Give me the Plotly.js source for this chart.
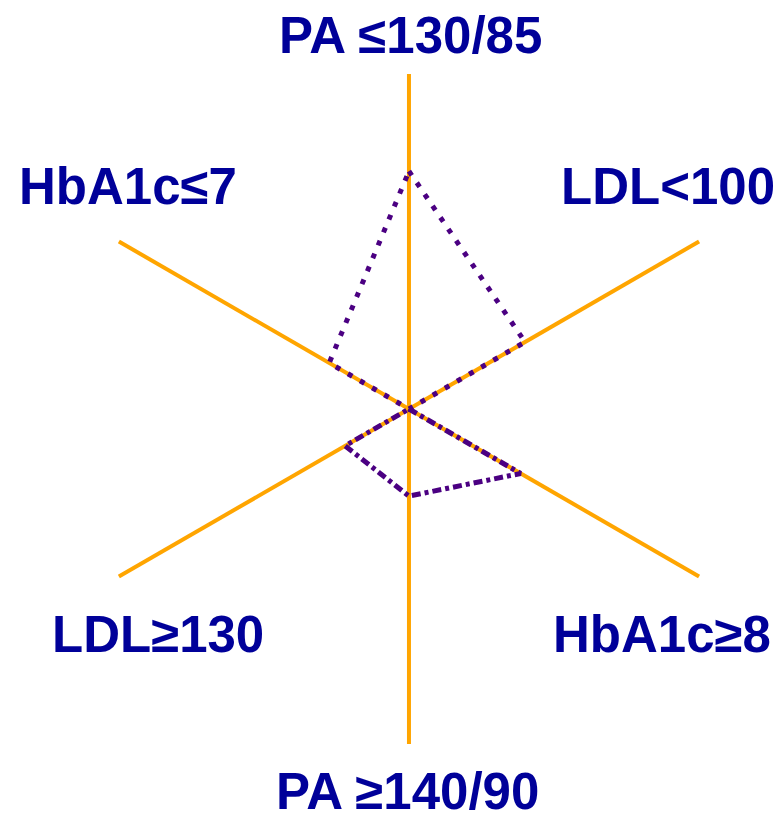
<!DOCTYPE html>
<html>
<head>
<meta charset="utf-8">
<script src="https://cdn.plot.ly/plotly-3.0.1.min.js"></script>
<style>
  html, body { margin: 0; padding: 0; background: #fff; }
  #chart { width: 781px; height: 819px; }
</style>
</head>
<body>
<div id="chart"></div>
<script>
// axes, clockwise from the top
var categories = ['PA \u2264130/85', 'LDL<100', 'HbA1c\u22658', 'PA \u2265140/90', 'LDL\u2265130', 'HbA1c\u22647'];
// share of patients reaching the target / in the poor range
var goalValues = [0.71, 0.40, 0, 0, 0, 0.275];
var poorValues = [0, 0, 0.385, 0.26, 0.22, 0];

var purple = '#4B0082';
var navy = '#000099';
var labelFont = {family: '"Liberation Sans Narrow", "Arial Narrow", "Liberation Sans", Arial, sans-serif', size: 51, color: navy, weight: 'bold'};

function closed(arr) { return arr.concat([arr[0]]); }

var traces = [
    {
        type: 'scatterpolar',
        r: closed(goalValues),
        theta: closed(categories),
        mode: 'lines',
        line: {color: purple, width: 5, dash: '5px,9px'},
        hoverinfo: 'skip'
    },
    {
        type: 'scatterpolar',
        r: closed(poorValues),
        theta: closed(categories),
        mode: 'lines',
        line: {color: purple, width: 5, dash: '9px,4px,4px,4px'},
        hoverinfo: 'skip'
    }
];

// label anchor points (paper coords), one per category
var labelPos = [
    [0.526, 0.957],
    [0.855, 0.772],
    [0.848, 0.225],
    [0.522, 0.034],
    [0.202, 0.225],
    [0.164, 0.772]
];

var annotations = categories.map(function(c, i) {
    return {
        text: '<b>' + c + '</b>',
        xref: 'paper', yref: 'paper',
        x: labelPos[i][0], y: labelPos[i][1],
        xanchor: 'center', yanchor: 'middle',
        showarrow: false,
        font: labelFont
    };
});

Plotly.newPlot('chart', traces, {
    width: 781,
    height: 819,
    margin: {l: 0, r: 0, t: 0, b: 0},
    paper_bgcolor: '#fff',
    showlegend: false,
    polar: {
        domain: {x: [0.0947, 0.9526], y: [0.0916, 0.9096]},
        bgcolor: 'rgba(0,0,0,0)',
        radialaxis: {visible: false, range: [0, 1]},
        angularaxis: {
            type: 'category',
            categoryarray: categories,
            rotation: 90,
            direction: 'clockwise',
            showline: false,
            showticklabels: false,
            ticks: '',
            showgrid: true,
            gridcolor: '#FFA500',
            gridwidth: 4
        }
    },
    annotations: annotations
}, {staticPlot: true});
</script>
</body>
</html>
